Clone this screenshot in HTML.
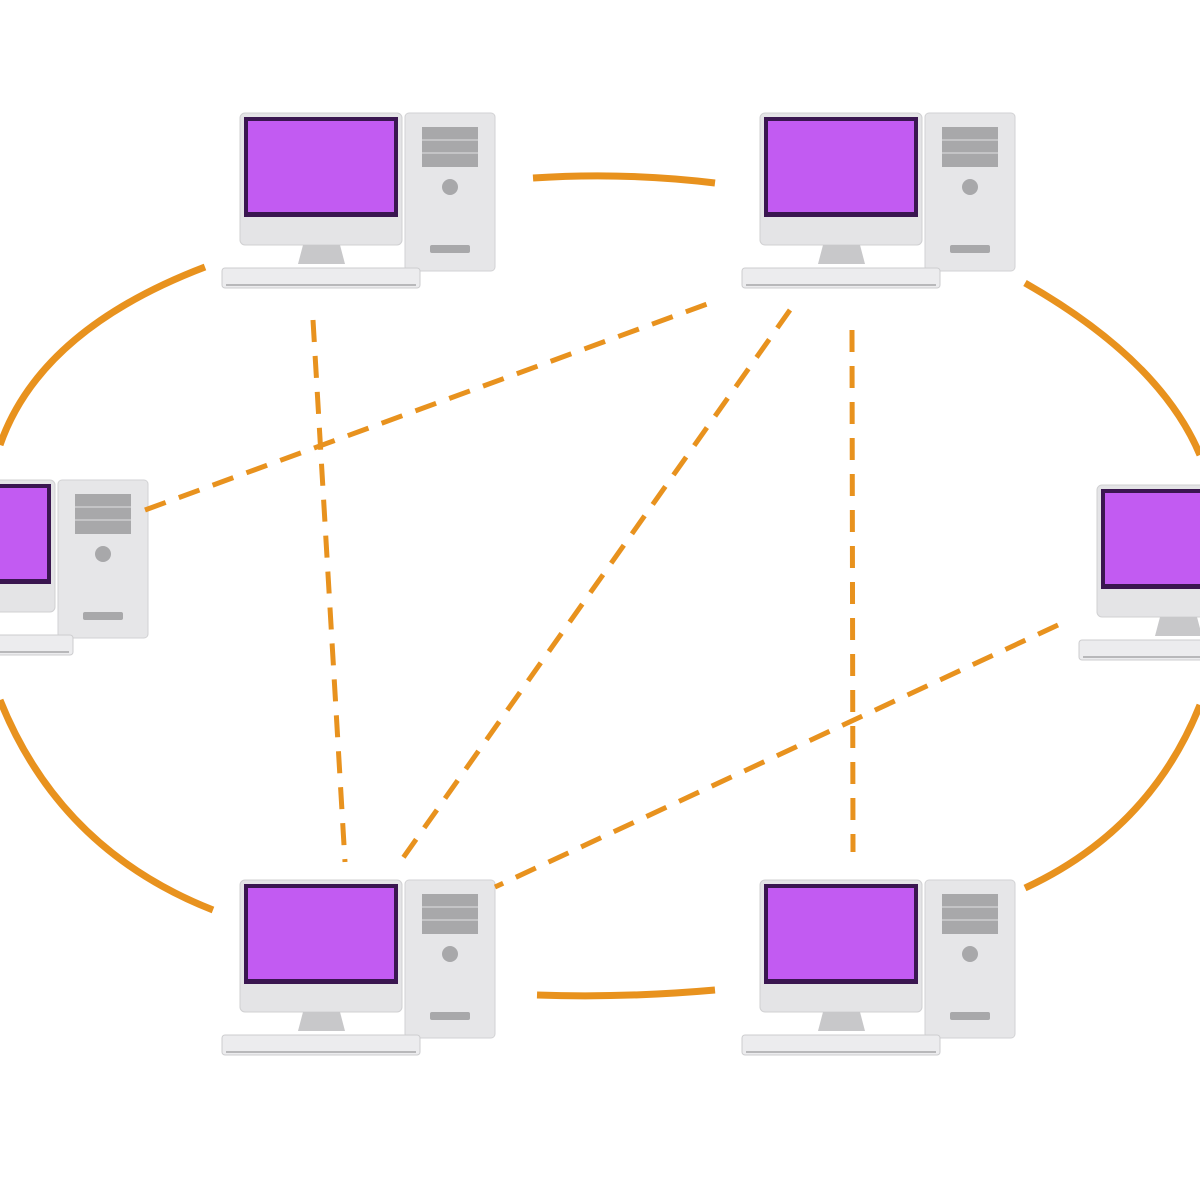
<!DOCTYPE html>
<html><head><style>body{margin:0;background:#fff}svg{display:block}</style></head><body>
<svg width="1200" height="1200" viewBox="0 0 1200 1200" xmlns="http://www.w3.org/2000/svg">
<defs>
<g id="pc">
 <rect x="405" y="113" width="90" height="158" rx="4" fill="#e6e6e8" stroke="#d2d2d4"/>
 <rect x="422" y="127" width="56" height="40" fill="#a8a8aa"/>
 <line x1="422" y1="140" x2="478" y2="140" stroke="#c4c4c6" stroke-width="2"/>
 <line x1="422" y1="153" x2="478" y2="153" stroke="#c4c4c6" stroke-width="2"/>
 <circle cx="450" cy="187" r="8" fill="#a8a8aa"/>
 <rect x="430" y="245" width="40" height="8" rx="2" fill="#a8a8aa"/>
 <rect x="240" y="113" width="162" height="132" rx="5" fill="#e4e4e6" stroke="#d0d0d2"/>
 <rect x="244" y="117" width="154" height="100" fill="#3a1650"/>
 <rect x="248" y="121" width="146" height="91" fill="#c25bf2"/>
 <path d="M303 245 L340 245 L345 264 L298 264 Z" fill="#c8c8ca"/>
 <rect x="222" y="268" width="198" height="20" rx="3" fill="#ececee" stroke="#cdcdcf"/>
 <line x1="226" y1="285" x2="416" y2="285" stroke="#b8b8ba" stroke-width="2"/>
</g>
</defs>
<use href="#pc"/>
<use href="#pc" x="520"/>
<use href="#pc" x="-347" y="367"/>
<use href="#pc" x="857" y="372"/>
<use href="#pc" y="767"/>
<use href="#pc" x="520" y="767"/>
<g fill="none" stroke="#e8921e" stroke-linecap="butt">
 <g stroke-width="7">
  <path d="M533 178 Q625 172 715 183"/>
  <path d="M537 995 Q625 998 715 990"/>
  <path d="M205 267 Q40 330 0 445"/>
  <path d="M0 700 Q60 850 213 910"/>
  <path d="M1025 283 Q1160 360 1200 455"/>
  <path d="M1200 705 Q1150 830 1025 888"/>
 </g>
 <g stroke-width="5" stroke-dasharray="22 14">
  <path d="M313 320 L345 862"/>
  <path d="M145 510 L718 300"/>
  <path d="M790 310 L398 865"/>
  <path d="M852 330 L853 852"/>
  <path d="M1058 625 L495 887"/>
 </g>
</g>
</svg>
</body></html>
